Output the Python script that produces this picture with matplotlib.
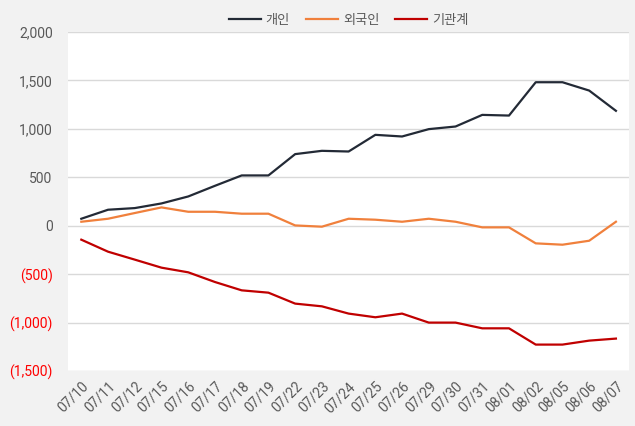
import matplotlib
matplotlib.use("Agg")
import matplotlib.pyplot as plt
from matplotlib.ticker import FuncFormatter

plt.rcParams['font.family'] = ['Roboto', 'Noto Sans CJK KR', 'DejaVu Sans']

dates = ['07/10', '07/11', '07/12', '07/15', '07/16', '07/17', '07/18', '07/19',
         '07/22', '07/23', '07/24', '07/25', '07/26', '07/29', '07/30', '07/31',
         '08/01', '08/02', '08/05', '08/06', '08/07']
individual = [72, 165, 182, 230, 302, 412, 519, 519, 739, 773, 766, 938, 921,
              997, 1024, 1144, 1137, 1481, 1481, 1395, 1186]
foreign = [41, 72, 131, 189, 144, 144, 124, 124, 3, -10, 72, 62, 41, 72, 41,
           -17, -17, -182, -196, -155, 41]
institution = [-144, -268, -350, -433, -481, -581, -667, -691, -804, -832, -907,
               -945, -907, -1000, -1000, -1059, -1059, -1227, -1227, -1186, -1165]

fig = plt.figure(figsize=(6.35, 4.26), dpi=100, facecolor='#f2f2f2')
ax = fig.add_axes([0.107, 0.129, 0.884, 0.796])
ax.set_facecolor('white')

x = list(range(len(dates)))
ax.plot(x, individual, color='#232a36', lw=1.6, label='개인')
ax.plot(x, foreign, color='#f0803c', lw=1.6, label='외국인')
ax.plot(x, institution, color='#c00000', lw=1.6, label='기관계')

ax.set_xlim(-0.5, len(dates) - 0.5)
ax.set_ylim(-1500, 2000)
ax.set_yticks(range(-1500, 2001, 500))
ax.yaxis.set_major_formatter(FuncFormatter(
    lambda v, p: f'({abs(v):,.0f})' if v < 0 else f'{v:,.0f}'))
for lbl, v in zip(ax.get_yticklabels(), range(-1500, 2001, 500)):
    lbl.set_color('#ff0000' if v < 0 else '#595959')

ax.set_xticks(x)
ax.set_xticklabels(dates, rotation=45, ha='right', rotation_mode='anchor')
ax.tick_params(axis='x', colors='#595959', labelsize=10, length=0, pad=6)
ax.tick_params(axis='y', labelsize=10, length=0, pad=11)

ax.grid(axis='y', color='#d9d9d9', lw=1)
ax.set_axisbelow(True)
for s in ax.spines.values():
    s.set_visible(False)

ax.legend(loc='lower center', bbox_to_anchor=(0.5, 1.0), ncol=3, frameon=False,
          fontsize=9.5, handlelength=2.4, columnspacing=1.2, handletextpad=0.4,
          labelcolor='#595959', borderaxespad=0.0)

fig.savefig('out.png', dpi=100, facecolor=fig.get_facecolor())
